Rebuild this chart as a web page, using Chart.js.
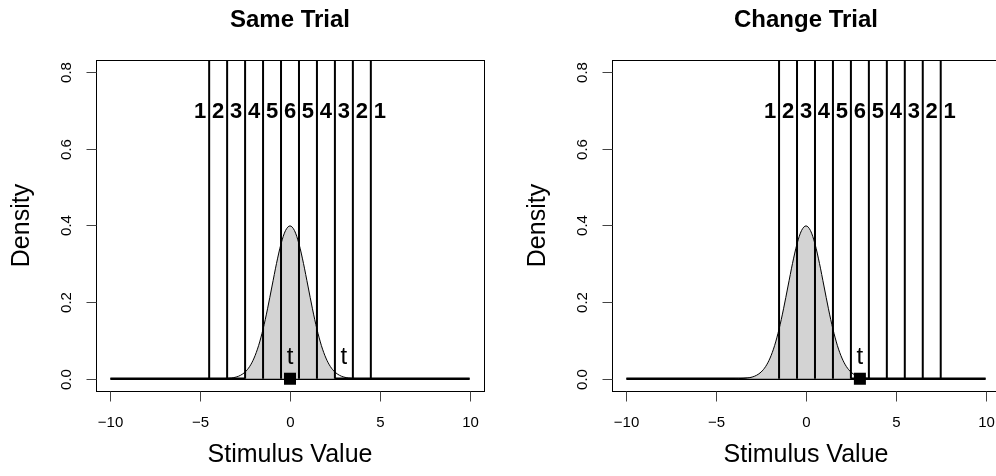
<!DOCTYPE html>
<html>
<head>
<meta charset="utf-8">
<script src="https://cdn.jsdelivr.net/npm/chart.js@4.4.1/dist/chart.umd.min.js"></script>
<style>
  html, body { margin: 0; padding: 0; background: #fff; }
  body { width: 996px; height: 476px; overflow: hidden; position: relative; }
  canvas { position: absolute; top: 0; }
</style>
</head>
<body>
<canvas id="sameChart" width="498" height="476" style="left:0px"></canvas>
<canvas id="changeChart" width="498" height="476" style="left:516px"></canvas>
<script>
// Density curve (same curve in both panels)
const curveX = [-10, -4, -3.75, -3.5, -3.25, -3, -2.75, -2.5, -2.25, -2, -1.75, -1.5, -1.25, -1, -0.75, -0.5, -0.25,
  0, 0.25, 0.5, 0.75, 1, 1.25, 1.5, 1.75, 2, 2.25, 2.5, 2.75, 3, 3.25, 3.5, 3.75, 4, 10];
const curveY = [0, 0.0001, 0.0004, 0.0009, 0.002, 0.0044, 0.0091, 0.0175, 0.0317, 0.054, 0.0863, 0.1295, 0.1826, 0.242, 0.3011, 0.3521, 0.3867,
  0.3989, 0.3867, 0.3521, 0.3011, 0.242, 0.1826, 0.1295, 0.0863, 0.054, 0.0317, 0.0175, 0.0091, 0.0044, 0.002, 0.0009, 0.0004, 0.0001, 0];

// Criteria (vertical lines) for each trial
const sameCriteria = [-4.5, -3.5, -2.5, -1.5, -0.5, 0.5, 1.5, 2.5, 3.5, 4.5];
const changeCriteria = [-1.5, -0.5, 0.5, 1.5, 2.5, 3.5, 4.5, 5.5, 6.5, 7.5];

// Rating labels above the lines
const ratingLabels = ["1", "2", "3", "4", "5", "6", "5", "4", "3", "2", "1"];
const sameLabelX = [-5, -4, -3, -2, -1, 0, 1, 2, 3, 4, 5];
const changeLabelX = [-2, -1, 0, 1, 2, 3, 4, 5, 6, 7, 8];
const labelY = 0.7;

// Shaded part under the curve
const sameShade = [-2.5, 2.5];
const changeShade = [-10, 2.5];

// Target marker and "t" letters
const sameTarget = [0];
const changeTarget = [3];
const sameT = [0, 3];
const changeT = [3];
const tY = 0.055;

// Axes
const xTicks = [-10, -5, 0, 5, 10];
const yTicks = [0, 0.2, 0.4, 0.6, 0.8];

const FONT = '"Liberation Sans", Arial, Helvetica, sans-serif';

function minus(s) {
  return s.replace("-", "\u2212");
}

// draws the R style frame, axes, texts
const decorations = {
  id: "decorations",
  afterDatasetsDraw(chart, args, opts) {
    const ctx = chart.ctx;
    const area = chart.chartArea;
    const xs = chart.scales.x;
    const ys = chart.scales.y;
    ctx.save();

    // box
    ctx.strokeStyle = "#000";
    ctx.lineWidth = 1;
    ctx.strokeRect(Math.round(area.left) + 0.5, Math.round(area.top) + 0.5,
      Math.round(area.right - area.left), Math.round(area.bottom - area.top));

    // x ticks
    ctx.strokeStyle = "#444";
    ctx.fillStyle = "#000";
    ctx.font = "15px " + FONT;
    ctx.textAlign = "center";
    ctx.textBaseline = "middle";
    const by = Math.round(area.bottom) + 0.5;
    xTicks.forEach(v => {
      const px = Math.round(xs.getPixelForValue(v)) + 0.5;
      ctx.beginPath();
      ctx.moveTo(px, by);
      ctx.lineTo(px, by + 10);
      ctx.stroke();
      ctx.fillText(minus(String(v)), px, 423);
    });

    // y ticks (rotated labels)
    const lx = Math.round(area.left) + 0.5;
    yTicks.forEach(v => {
      const py = Math.round(ys.getPixelForValue(v)) + 0.5;
      ctx.beginPath();
      ctx.moveTo(lx, py);
      ctx.lineTo(lx - 10, py);
      ctx.stroke();
      ctx.save();
      ctx.translate(67, py);
      ctx.rotate(-Math.PI / 2);
      ctx.fillText(v.toFixed(1), 0, 0);
      ctx.restore();
    });

    const cx = xs.getPixelForValue(0);

    // titles
    ctx.font = "bold 24px " + FONT;
    ctx.fillText(opts.title, cx, 20);

    ctx.font = "25px " + FONT;
    ctx.fillText("Stimulus Value", cx, 455);
    ctx.save();
    ctx.translate(22, (area.top + area.bottom) / 2);
    ctx.rotate(-Math.PI / 2);
    ctx.fillText("Density", 0, 0);
    ctx.restore();

    // rating numbers
    ctx.font = "bold 22px " + FONT;
    opts.labelX.forEach((v, i) => {
      ctx.fillText(ratingLabels[i], xs.getPixelForValue(v), ys.getPixelForValue(labelY) + 1);
    });

    // t letters
    ctx.font = "24px " + FONT;
    opts.tX.forEach(v => {
      ctx.fillText("t", xs.getPixelForValue(v), ys.getPixelForValue(tY));
    });

    ctx.restore();
  }
};

function makePanel(id, title, criteria, labelX, shade, target, tX) {
  const curve = curveX.map((x, i) => ({ x: x, y: curveY[i] }));
  const shaded = curve.filter(p => p.x >= shade[0] && p.x <= shade[1]);

  const vlines = [];
  criteria.forEach(c => {
    vlines.push({ x: c, y: 0 });
    vlines.push({ x: c, y: 1 });
    vlines.push({ x: c, y: null });
  });

  new Chart(document.getElementById(id), {
    type: "line",
    data: {
      datasets: [
        {
          data: [{ x: -10, y: 0 }, { x: 10, y: 0 }],
          borderColor: "#000",
          borderWidth: 2.5,
          pointRadius: 0,
          order: 6
        },
        {
          data: shaded,
          borderWidth: 0,
          borderColor: "rgba(0,0,0,0)",
          backgroundColor: "#d3d3d3",
          fill: "origin",
          cubicInterpolationMode: "monotone",
          pointRadius: 0,
          order: 5
        },
        {
          data: curve,
          borderColor: "#000",
          borderWidth: 1,
          cubicInterpolationMode: "monotone",
          pointRadius: 0,
          order: 4
        },
        {
          data: vlines,
          borderColor: "#000",
          borderWidth: 2,
          spanGaps: false,
          pointRadius: 0,
          order: 3
        },
        {
          data: target.map(x => ({ x: x, y: 0 })),
          showLine: false,
          pointStyle: "rect",
          pointRadius: 8.5,
          pointBackgroundColor: "#000",
          pointBorderWidth: 0,
          order: 1
        }
      ]
    },
    options: {
      responsive: false,
      devicePixelRatio: 1,
      animation: false,
      events: [],
      layout: { padding: { left: 96, right: 14, top: 60, bottom: 85 } },
      scales: {
        x: { type: "linear", min: -10.8, max: 10.8, display: false },
        y: { type: "linear", min: -0.032, max: 0.832, display: false }
      },
      plugins: {
        legend: { display: false },
        tooltip: { enabled: false },
        decorations: { title: title, labelX: labelX, tX: tX }
      }
    },
    plugins: [decorations]
  });
}

makePanel("sameChart", "Same Trial", sameCriteria, sameLabelX, sameShade, sameTarget, sameT);
makePanel("changeChart", "Change Trial", changeCriteria, changeLabelX, changeShade, changeTarget, changeT);
</script>
</body>
</html>
